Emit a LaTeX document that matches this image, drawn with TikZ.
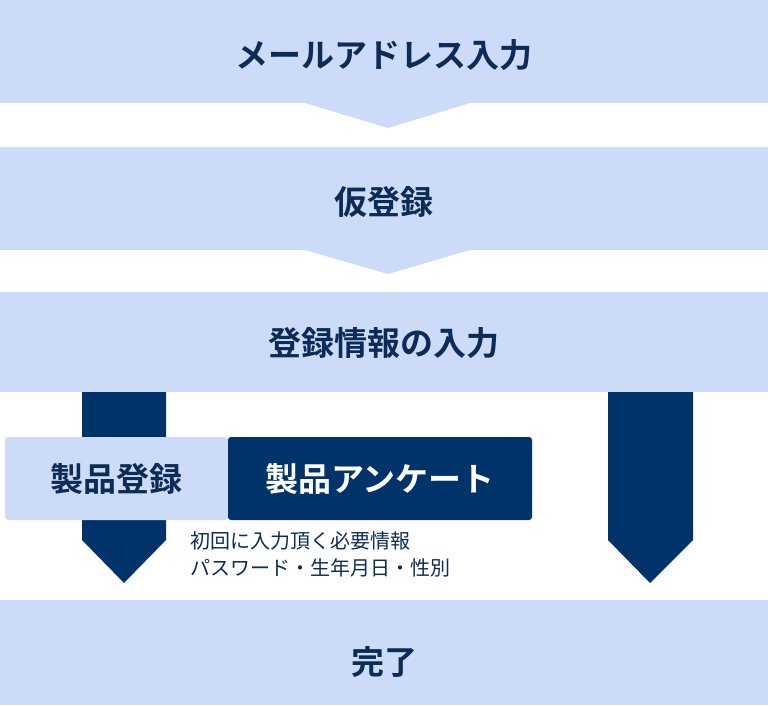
\documentclass[tikz,border=0pt]{standalone}
\usepackage{fontspec}
\setmainfont{Noto Sans CJK JP}
\newfontfamily\jpbold{Noto Sans CJK JP Bold}
\usetikzlibrary{positioning}
\definecolor{bandblue}{HTML}{CCDCF8}
\definecolor{navy}{HTML}{00336A}
\definecolor{inktext}{HTML}{0D2B57}

\begin{document}
\begin{tikzpicture}[x=1pt,y=-1pt,
  band/.style={fill=bandblue,draw=none},
  heading/.style={text=inktext,font=\jpbold\fontsize{33}{36}\selectfont},
  tabbox/.style={rounded corners=3pt,draw=none,minimum height=83pt,font=\jpbold\fontsize{33}{36}\selectfont}]
  \useasboundingbox (0,0) rectangle (768,705);

  % bands with chevron points
  \fill[bandblue] (0,0) -- (768,0) -- (768,103) -- (470,103) -- (388,128) -- (305,103) -- (0,103) -- cycle;
  \fill[bandblue] (0,147) -- (768,147) -- (768,250) -- (470,250) -- (388,274) -- (305,250) -- (0,250) -- cycle;
  \fill[bandblue] (0,292) rectangle (768,392);
  \fill[bandblue] (0,600) rectangle (768,705);

  % dark arrows
  \fill[navy] (82,392) -- (166,392) -- (166,540) -- (124,583) -- (82,540) -- cycle;
  \fill[navy] (608,392) -- (693,392) -- (693,540) -- (650,583) -- (608,540) -- cycle;

  \node[heading] (mail) at (384,55) {メールアドレス入力};
  \node[heading] (temp) at (384,202) {仮登録};
  \node[heading] (info) at (384,343) {登録情報の入力};
  \node[heading] (done) at (384,662) {完了};

  \node[tabbox,fill=bandblue,text=inktext,minimum width=223pt] (product) at (116.5,478.5) {製品登録};
  \node[tabbox,fill=navy,text=white,minimum width=304pt] (survey) at (380,478.5) {製品アンケート};

  \node[text=inktext,font=\fontsize{20}{27}\selectfont,align=left,anchor=north west,inner sep=0pt]
    (note) at (190,531) {初回に入力頂く必要情報\\パスワード・生年月日・性別};
\end{tikzpicture}
\end{document}
